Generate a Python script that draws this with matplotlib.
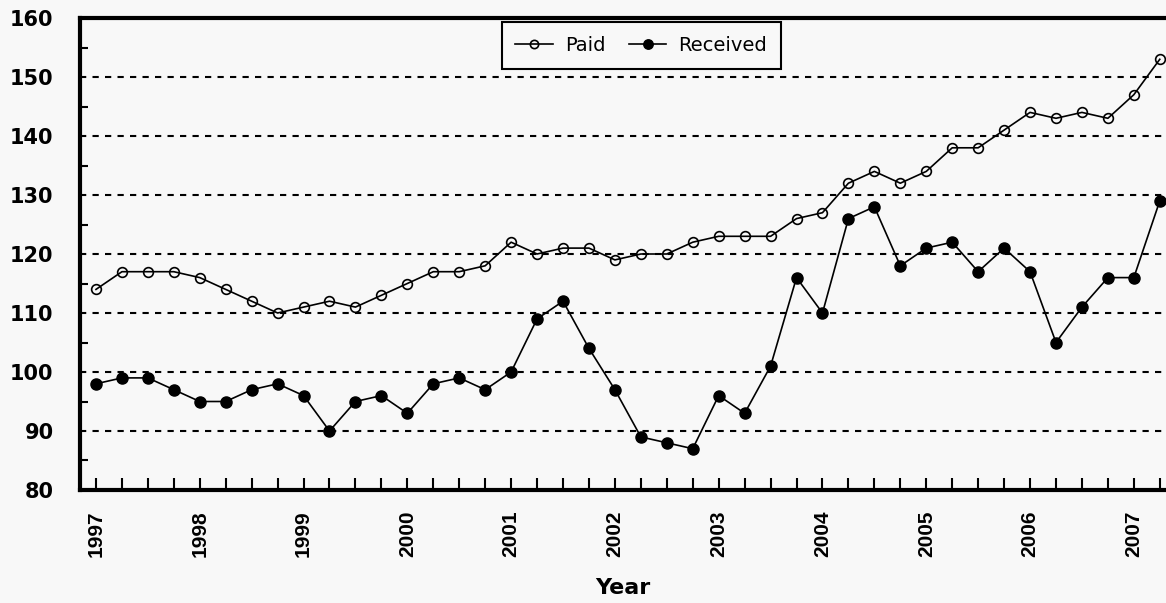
import numpy as np
import matplotlib
matplotlib.use("Agg")
import matplotlib.pyplot as plt
from matplotlib.ticker import MultipleLocator

# quarterly index values, 1997 Q1 .. 2007 Q2
paid = [114, 117, 117, 117, 116, 114, 112, 110, 111, 112, 111, 113,
        115, 117, 117, 118, 122, 120, 121, 121, 119, 120, 120, 122,
        123, 123, 123, 126, 127, 132, 134, 132, 134, 138, 138, 141,
        144, 143, 144, 143, 147, 153]
received = [98, 99, 99, 97, 95, 95, 97, 98, 96, 90, 95, 96,
            93, 98, 99, 97, 100, 109, 112, 104, 97, 89, 88, 87,
            96, 93, 101, 116, 110, 126, 128, 118, 121, 122, 117, 121,
            117, 105, 111, 116, 116, 129]
years = list(range(1997, 2008))

quarters = 1997 + 0.25 * np.arange(len(paid))

bg = "#f8f8f8"
fig = plt.figure(figsize=(11.66, 6.03), dpi=100, facecolor=bg)
ax = fig.add_axes([80 / 1166, 1 - 490 / 603, 1 - 80 / 1166, 472 / 603])
ax.set_facecolor(bg)

# series
ax.plot(quarters, paid, color="black", lw=1.2, marker="o", ms=7,
        mfc="none", mec="black", mew=1.2, label="Paid", clip_on=False, zorder=3)
ax.plot(quarters, received, color="black", lw=1.2, marker="o", ms=8,
        mfc="black", mec="black", label="Received", clip_on=False, zorder=3)

# axes limits and ticks
ax.set_xlim(1996.846, 2007.31)
ax.set_ylim(80, 160)
ax.set_xticks(years)
ax.set_xticklabels([str(y) for y in years], rotation=90,
                   fontfamily="Liberation Sans", fontweight="bold", fontsize=15)
ax.xaxis.set_minor_locator(MultipleLocator(0.25))
ax.set_yticks(range(80, 161, 10))
ax.set_yticklabels([str(v) for v in range(80, 161, 10)],
                   fontfamily="DejaVu Sans", fontweight="bold", fontsize=15)
ax.yaxis.set_minor_locator(MultipleLocator(5))

ax.tick_params(axis="x", which="both", direction="in", length=9, width=1.5, pad=15)
ax.tick_params(axis="y", which="major", direction="in", length=0, pad=19)
ax.tick_params(axis="y", which="minor", direction="in", length=6, width=1.5)

# dashed horizontal grid
for v in range(90, 160, 10):
    ax.axhline(v, color="black", lw=1.5, ls=(0, (3, 3)), zorder=1)

for side in ["left", "bottom", "top"]:
    ax.spines[side].set_linewidth(3)
ax.spines["right"].set_visible(False)

ax.set_xlabel("Year", fontfamily="DejaVu Sans", fontweight="bold",
              fontsize=16, labelpad=15)

leg = ax.legend(loc="center", bbox_to_anchor=(0.5166, 0.9417), ncol=2,
                fontsize=14, frameon=True, fancybox=False, shadow=False,
                handlelength=1.95, handletextpad=0.6, columnspacing=1.2,
                borderpad=0.7, markerscale=0.85, edgecolor="black",
                facecolor=bg, framealpha=1)
leg.get_frame().set_linewidth(1.5)

fig.savefig("out.png", dpi=100, facecolor=bg)
